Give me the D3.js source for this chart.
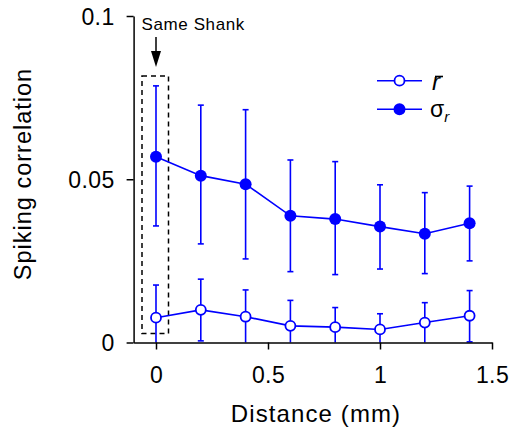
<!DOCTYPE html>
<html>
<head>
<meta charset="utf-8">
<script src="https://cdn.jsdelivr.net/npm/d3@7"></script>
<style>
  html, body { margin: 0; padding: 0; background: #fff; }
  svg { display: block; font-family: "Liberation Sans", Arial, Helvetica, sans-serif; }
</style>
</head>
<body>
<svg id="chart" width="514" height="435"></svg>
<script>
// ---- data ----
const distances = [0, 0.2, 0.4, 0.6, 0.8, 1.0, 1.2, 1.4];
const sigmaMean = [0.0569, 0.0511, 0.0485, 0.0388, 0.0378, 0.0355, 0.0333, 0.0365];
const sigmaHigh = [0.0786, 0.0727, 0.0713, 0.0559, 0.0554, 0.0483, 0.0459, 0.0479];
const sigmaLow  = [0.0357, 0.0302, 0.0256, 0.0217, 0.0208, 0.0225, 0.0211, 0.0250];
const rMean = [0.0076, 0.0100, 0.0079, 0.0051, 0.0047, 0.0040, 0.0061, 0.0082];
const rHigh = [0.0176, 0.0194, 0.0161, 0.0129, 0.0107, 0.0088, 0.0122, 0.0159];
const rLow  = [0.0000, 0.0005, 0.0000, 0.0000, 0.0000, 0.0000, 0.0000, 0.0002];
const xTicks = [0, 0.5, 1, 1.5];
const xTickLabels = ["0", "0.5", "1", "1.5"];
const yTicks = [0, 0.05, 0.1];
const yTickLabels = ["0", "0.05", "0.1"];
const xTitle = "Distance (mm)";
const yTitle = "Spiking correlation";
const annotation = "Same Shank";

// ---- layout ----
const blue = "#0000ff";
const svg = d3.select("#chart");
const x = d3.scaleLinear().domain([-0.1, 1.5]).range([133.6, 492]);
const y = d3.scaleLinear().domain([0, 0.1]).range([342.5, 16]);

const sigmaData = distances.map((d, i) => ({x: d, m: sigmaMean[i], lo: sigmaLow[i], hi: sigmaHigh[i]}));
const rData = distances.map((d, i) => ({x: d, m: rMean[i], lo: rLow[i], hi: rHigh[i]}));

// dashed "same shank" box
svg.append("rect")
  .attr("x", x(0) - 14).attr("y", 76)
  .attr("width", 26.5).attr("height", 257.5)
  .attr("fill", "none").attr("stroke", "#000")
  .attr("stroke-width", 1.5).attr("stroke-dasharray", "5,4");

// arrow + label
svg.append("line")
  .attr("x1", x(0)).attr("x2", x(0)).attr("y1", 37).attr("y2", 54)
  .attr("stroke", "#000").attr("stroke-width", 1.5);
svg.append("path")
  .attr("d", `M${x(0) - 5},51 L${x(0) + 5},51 L${x(0)},67 Z`)
  .attr("fill", "#000");
svg.append("text")
  .attr("x", 141.5).attr("y", 29.5)
  .attr("font-size", 17).attr("letter-spacing", 0.6)
  .text(annotation);

function drawSeries(data, filled) {
  const g = svg.append("g");
  // error bars
  g.selectAll("line.eb").data(data).join("line")
    .attr("x1", d => x(d.x)).attr("x2", d => x(d.x))
    .attr("y1", d => y(d.lo)).attr("y2", d => y(d.hi))
    .attr("stroke", blue).attr("stroke-width", 1.6);
  g.selectAll("line.capHi").data(data).join("line")
    .attr("x1", d => x(d.x) - 3).attr("x2", d => x(d.x) + 3)
    .attr("y1", d => y(d.hi)).attr("y2", d => y(d.hi))
    .attr("stroke", blue).attr("stroke-width", 1.6);
  g.selectAll("line.capLo").data(data.filter(d => d.lo > 0)).join("line")
    .attr("x1", d => x(d.x) - 3).attr("x2", d => x(d.x) + 3)
    .attr("y1", d => y(d.lo)).attr("y2", d => y(d.lo))
    .attr("stroke", blue).attr("stroke-width", 1.6);
  // connecting line
  g.append("path").datum(data)
    .attr("d", d3.line().x(d => x(d.x)).y(d => y(d.m)))
    .attr("fill", "none").attr("stroke", blue).attr("stroke-width", 1.6);
  // markers
  g.selectAll("circle").data(data).join("circle")
    .attr("cx", d => x(d.x)).attr("cy", d => y(d.m))
    .attr("r", filled ? 6 : 5)
    .attr("fill", filled ? blue : "#fff")
    .attr("stroke", blue).attr("stroke-width", filled ? 0 : 1.8);
}
drawSeries(sigmaData, true);
drawSeries(rData, false);

// axes
const xAxis = d3.axisBottom(x).tickValues(xTicks)
  .tickFormat((d, i) => xTickLabels[i]).tickSize(7).tickSizeOuter(0).tickPadding(17);
const gx = svg.append("g").attr("transform", `translate(0,${y(0)})`).call(xAxis);
const yAxis = d3.axisLeft(y).tickValues(yTicks)
  .tickFormat((d, i) => yTickLabels[i]).tickSize(7).tickSizeOuter(0).tickPadding(12);
const gy = svg.append("g").attr("transform", `translate(${x(-0.1)},0)`).call(yAxis);
[gx, gy].forEach(g => {
  g.select(".domain").attr("stroke", "#000").attr("stroke-width", 1.5);
  g.selectAll(".tick line").attr("stroke", "#000").attr("stroke-width", 1.5);
  g.selectAll(".tick text").attr("fill", "#000")
    .attr("font-family", '"Liberation Sans", Arial, sans-serif').attr("font-size", 23)
    .attr("letter-spacing", 0.4);
});
gy.selectAll(".tick text").attr("dy", "0.36em");
gx.selectAll(".tick text").attr("dy", "0.71em");
gx.raise();

// titles
svg.append("text")
  .attr("x", 316).attr("y", 421.5).attr("text-anchor", "middle")
  .attr("font-size", 24).attr("letter-spacing", 1.1)
  .text(xTitle);
svg.append("text")
  .attr("transform", "translate(31,174) rotate(-90)").attr("text-anchor", "middle")
  .attr("font-size", 23.5).attr("letter-spacing", 1.0)
  .text(yTitle);

// legend
const legend = [
  {filled: false, y: 80.7},
  {filled: true, y: 109.3}
];
legend.forEach(l => {
  svg.append("line").attr("x1", 377).attr("x2", 422).attr("y1", l.y).attr("y2", l.y)
    .attr("stroke", blue).attr("stroke-width", 1.6);
  svg.append("circle").attr("cx", 399.5).attr("cy", l.y).attr("r", l.filled ? 6 : 5)
    .attr("fill", l.filled ? blue : "#fff").attr("stroke", blue)
    .attr("stroke-width", l.filled ? 0 : 1.8);
});
// r-bar
svg.append("text").attr("x", 432).attr("y", 89.5)
  .attr("font-size", 24).attr("font-style", "italic").text("r");
svg.append("line").attr("x1", 435).attr("x2", 443).attr("y1", 76.5).attr("y2", 76.5)
  .attr("stroke", "#000").attr("stroke-width", 1.6);
// sigma_r
const st = svg.append("text").attr("x", 430).attr("y", 116.5).attr("font-size", 23);
st.append("tspan").text("σ");
st.append("tspan").attr("font-size", 15).attr("font-style", "italic").attr("dy", 5).text("r");
</script>
</body>
</html>
